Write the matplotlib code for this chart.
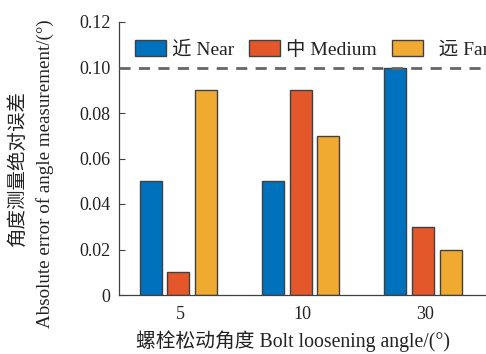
import matplotlib
matplotlib.use("Agg")
import matplotlib.pyplot as plt
import numpy as np

groups = ['5', '10', '30']
series = ['近 Near', '中 Medium', '远 Far']
near = [0.05, 0.05, 0.10]
medium = [0.01, 0.09, 0.03]
far = [0.09, 0.07, 0.02]
threshold = 0.10
yticks = [0, 0.02, 0.04, 0.06, 0.08, 0.10, 0.12]
yticklabels = ['0', '0.02', '0.04', '0.06', '0.08', '0.10', '0.12']

colors = ['#0072BD', '#E3572A', '#F0AA32']
fonts = ['Liberation Serif', 'Noto Sans CJK SC']
plt.rcParams['font.family'] = fonts
plt.rcParams['axes.unicode_minus'] = False

W, H = 486, 354
fig = plt.figure(figsize=(W / 100, H / 100), dpi=100)
ax = fig.add_axes([119 / W, (H - 295) / H, 367 / W, 273 / H])

x = np.arange(1, len(groups) + 1)
step, width = 0.225, 0.18
for k, (vals, lab) in enumerate(zip([near, medium, far], series)):
    ax.bar(x + (k - 1) * step - 0.015, vals, width, color=colors[k], edgecolor='#404040',
           linewidth=1, label=lab, zorder=2)

ax.axhline(threshold, color='#666666', linestyle=(0, (4, 3)), linewidth=2, zorder=3)

ax.set_xlim(0.5, 3.5)
ax.set_ylim(0, 0.12)
ax.set_xticks(x)
ax.set_xticklabels(groups)
ax.set_yticks(yticks)
ax.set_yticklabels(yticklabels)
ax.tick_params(direction='in', length=4, width=0.8, colors='#404040',
               labelcolor='#222222', labelsize=13, pad=6)
ax.tick_params(axis='x', pad=8)
for s in ['top', 'right']:
    ax.spines[s].set_visible(False)
for s in ['left', 'bottom']:
    ax.spines[s].set_color('#404040')
    ax.spines[s].set_linewidth(0.9)

handles, labels = ax.get_legend_handles_labels()
labels[2] = '  ' + labels[2]
leg = ax.legend(handles, labels, loc='upper left', bbox_to_anchor=(135 / W, 1 - 40 / H),
                bbox_transform=fig.transFigure, ncol=3, frameon=False,
                fontsize=14, handlelength=1.6, handleheight=0.88,
                handletextpad=0.28, columnspacing=0.8, borderpad=0, borderaxespad=0)
for t in leg.get_texts():
    t.set_color('#222222')

fig.text(17 / W, 1 - 168 / H, '角度测量绝对误差',
         rotation=90, ha='center', va='center', fontsize=14, color='#222222')
fig.text(45 / W, 1 - 174 / H, 'Absolute error of angle measurement/(°)',
         rotation=90, ha='center', va='center', fontsize=13.7, color='#222222')
fig.text(293 / W, 1 - 341 / H, '螺栓松动角度 Bolt loosening angle/(°)',
         ha='center', va='center', fontsize=14.2, color='#222222')

fig.savefig('out.png', dpi=100, facecolor='white')
